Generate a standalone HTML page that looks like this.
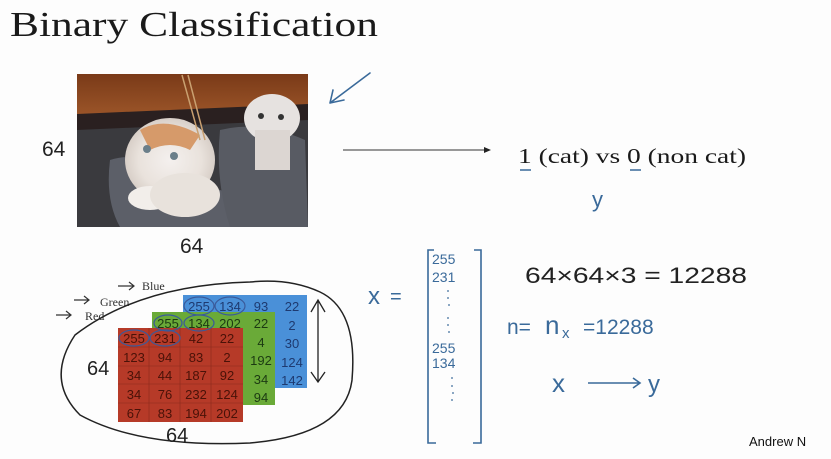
<!DOCTYPE html>
<html><head><meta charset="utf-8"><style>
html,body{margin:0;padding:0;background:#fdfdfd;}
svg{display:block;}
.hw{font-family:"Liberation Sans",sans-serif;}
</style></head><body>
<svg width="831" height="459" viewBox="0 0 831 459" xmlns="http://www.w3.org/2000/svg">
<rect width="831" height="459" fill="#fdfdfd"/>
<text x="10" y="36" font-family="Liberation Serif,serif" font-size="35" fill="#1a1a1a" textLength="368" lengthAdjust="spacingAndGlyphs">Binary Classification</text>

<!-- photo -->
<defs>
<radialGradient id="cat1" cx="0.5" cy="0.5" r="0.5"><stop offset="0" stop-color="#f4f0ee"/><stop offset="0.7" stop-color="#e9e2dc"/><stop offset="1" stop-color="#d8cfc8"/></radialGradient>
<linearGradient id="wood" x1="0" y1="0" x2="0" y2="1"><stop offset="0" stop-color="#7a3a18"/><stop offset="1" stop-color="#9a5428"/></linearGradient>
</defs>
<rect x="77" y="74" width="231" height="153" fill="#3a3a3e"/>
<rect x="77" y="74" width="231" height="40" fill="url(#wood)"/>
<path d="M77 114 L308 104 L308 120 L77 130 Z" fill="#2a2020"/>
<path d="M110 160 Q140 150 175 175 L250 200 L250 227 L120 227 Q105 200 110 160Z" fill="#5c5f68"/>
<path d="M220 130 Q260 120 305 140 L308 227 L230 227 Q215 180 220 130Z" fill="#585b63"/>
<ellipse cx="170" cy="160" rx="45" ry="42" fill="url(#cat1)"/>
<path d="M140 130 Q165 115 200 135 L190 150 Q170 140 150 150Z" fill="#d69a6a"/>
<ellipse cx="150" cy="198" rx="22" ry="12" fill="#f2eeea"/>
<ellipse cx="185" cy="195" rx="35" ry="22" fill="#e8e2dc"/>
<ellipse cx="272" cy="118" rx="28" ry="24" fill="#e6e2e0"/>
<rect x="255" y="130" width="35" height="40" fill="#dcd6d2"/>
<circle cx="147" cy="149" r="4" fill="#6b7f8a"/><circle cx="174" cy="156" r="4" fill="#6b7f8a"/>
<circle cx="261" cy="116" r="3" fill="#333"/><circle cx="281" cy="117" r="3" fill="#333"/>
<path d="M182 75 L200 140 M188 75 L205 140" stroke="#c9a070" stroke-width="1.5" fill="none"/>

<text class="hw" x="42" y="156" font-size="21" fill="#222">64</text>
<text class="hw" x="180" y="253" font-size="21" fill="#222">64</text>

<!-- blue arrow -->
<path d="M370 73 L330 103 M330 103 L333 90 M330 103 L344 100" stroke="#3a6a9a" stroke-width="1.6" fill="none" stroke-linecap="round"/>

<!-- arrow to label -->
<line x1="343" y1="150" x2="486" y2="150" stroke="#333" stroke-width="1"/>
<path d="M491 150 L484 147 L484 153Z" fill="#222"/>
<text x="518" y="163" font-family="Liberation Serif,serif" font-size="21" fill="#1a1a1a" textLength="228" lengthAdjust="spacingAndGlyphs">1 (cat) vs 0 (non cat)</text>
<path d="M520 170 L531 170 M630 170 L641 170" stroke="#3a6a9a" stroke-width="1.5"/>
<text class="hw" x="592" y="207" font-size="22" fill="#3a6a9a">y</text>

<!-- labels -->
<g font-family="Liberation Serif,serif" font-size="12" fill="#333">
<text x="142" y="290">Blue</text><text x="100" y="306">Green</text><text x="85" y="320">Red</text>
</g>
<g stroke="#333" stroke-width="1.2" fill="none">
<path d="M118 286 L134 286 M129 282 L134 286 L129 290"/>
<path d="M74 300 L89 300 M84 296 L89 300 L84 304"/>
<path d="M56 315 L71 315 M66 311 L71 315 L66 319"/>
</g>

<!-- grids -->
<g font-family="Liberation Sans,sans-serif" font-size="13" text-anchor="middle">
<rect x="183" y="295" width="124" height="93" fill="#4a90d8"/>
<g fill="#1e3a70">
<text x="199" y="311">255</text><text x="230" y="311">134</text><text x="261" y="311">93</text><text x="292" y="311">22</text>
<text x="292" y="330">2</text><text x="292" y="348">30</text><text x="292" y="367">124</text><text x="292" y="385">142</text>
</g>
<rect x="152" y="312" width="123" height="93" fill="#6aaa38"/>
<g fill="#1c3a12">
<text x="168" y="328">255</text><text x="199" y="328">134</text><text x="230" y="328">202</text><text x="261" y="328">22</text>
<text x="261" y="347">4</text><text x="261" y="365">192</text><text x="261" y="384">34</text><text x="261" y="402">94</text>
</g>
<rect x="118" y="328" width="125" height="94" fill="#b63a28"/>
<g stroke="#8a2a1c" stroke-width="0.6">
<line x1="149" y1="328" x2="149" y2="422"/><line x1="180" y1="328" x2="180" y2="422"/><line x1="211" y1="328" x2="211" y2="422"/>
<line x1="118" y1="347" x2="243" y2="347"/><line x1="118" y1="366" x2="243" y2="366"/><line x1="118" y1="384" x2="243" y2="384"/><line x1="118" y1="403" x2="243" y2="403"/>
</g>
<g fill="#4a1208">
<text x="134" y="343">255</text><text x="165" y="343">231</text><text x="196" y="343">42</text><text x="227" y="343">22</text>
<text x="134" y="362">123</text><text x="165" y="362">94</text><text x="196" y="362">83</text><text x="227" y="362">2</text>
<text x="134" y="380">34</text><text x="165" y="380">44</text><text x="196" y="380">187</text><text x="227" y="380">92</text>
<text x="134" y="399">34</text><text x="165" y="399">76</text><text x="196" y="399">232</text><text x="227" y="399">124</text>
<text x="134" y="418">67</text><text x="165" y="418">83</text><text x="196" y="418">194</text><text x="227" y="418">202</text>
</g>
</g>
<g stroke="#3a5a9a" stroke-width="1.2" fill="none">
<ellipse cx="199" cy="306" rx="15" ry="9"/><ellipse cx="230" cy="306" rx="15" ry="9"/>
<ellipse cx="168" cy="323" rx="14" ry="8"/><ellipse cx="199" cy="323" rx="15" ry="8"/>
<ellipse cx="134" cy="338" rx="15" ry="8"/><ellipse cx="165" cy="338" rx="15" ry="8"/>
</g>
<!-- ellipse + arrows -->
<path d="M250 282 Q140 285 75 335 Q45 380 80 415 Q140 448 250 443 Q345 435 352 380 Q358 310 320 292 Q290 278 250 282Z" stroke="#222" stroke-width="1.5" fill="none"/>
<path d="M318 300 L318 382 M311 312 L318 300 L325 312 M311 372 L318 382 L325 372" stroke="#222" stroke-width="1.3" fill="none"/>
<text class="hw" x="87" y="375" font-size="20" fill="#222">64</text>
<text class="hw" x="166" y="442" font-size="20" fill="#222">64</text>

<!-- vector x -->
<text class="hw" x="368" y="304" font-size="24" fill="#3a6a9a">x</text>
<text class="hw" x="390" y="303" font-size="20" fill="#3a6a9a">=</text>
<path d="M434 250 L428 250 L428 443 L436 443 M474 250 L481 250 L481 443 L473 443" stroke="#3a6a9a" stroke-width="1.6" fill="none"/>
<g class="hw" font-size="14" fill="#3a6a9a">
<text x="432" y="264">255</text><text x="432" y="282">231</text>
<text x="432" y="353">255</text><text x="432" y="368">134</text>
</g>
<g fill="#3a6a9a">
<circle cx="448" cy="291" r="0.9"/><circle cx="448" cy="298" r="0.9"/><circle cx="449" cy="305" r="0.9"/>
<circle cx="448" cy="318" r="0.9"/><circle cx="448" cy="325" r="0.9"/><circle cx="449" cy="332" r="0.9"/>
<circle cx="452" cy="378" r="0.9"/><circle cx="452" cy="386" r="0.9"/><circle cx="453" cy="393" r="0.9"/><circle cx="452" cy="400" r="0.9"/>
</g>

<text class="hw" x="525" y="283" font-size="22" fill="#222" textLength="222" lengthAdjust="spacingAndGlyphs">64×64×3 = 12288</text>
<text class="hw" x="507" y="334" font-size="21" fill="#3a6a9a">n=</text>
<text class="hw" x="545" y="334" font-size="26" fill="#3a6a9a">n</text>
<text class="hw" x="562" y="338" font-size="15" fill="#3a6a9a">x</text>
<text class="hw" x="583" y="334" font-size="21" fill="#3a6a9a">=12288</text>
<text class="hw" x="552" y="392" font-size="26" fill="#3a6a9a">x</text>
<path d="M588 383 L640 383 M633 378 L640 383 L633 388" stroke="#3a6a9a" stroke-width="1.6" fill="none"/>
<text class="hw" x="648" y="392" font-size="24" fill="#3a6a9a">y</text>
<text x="749" y="446" font-family="Liberation Sans,sans-serif" font-size="13" fill="#111">Andrew N</text>
</svg>
</body></html>
